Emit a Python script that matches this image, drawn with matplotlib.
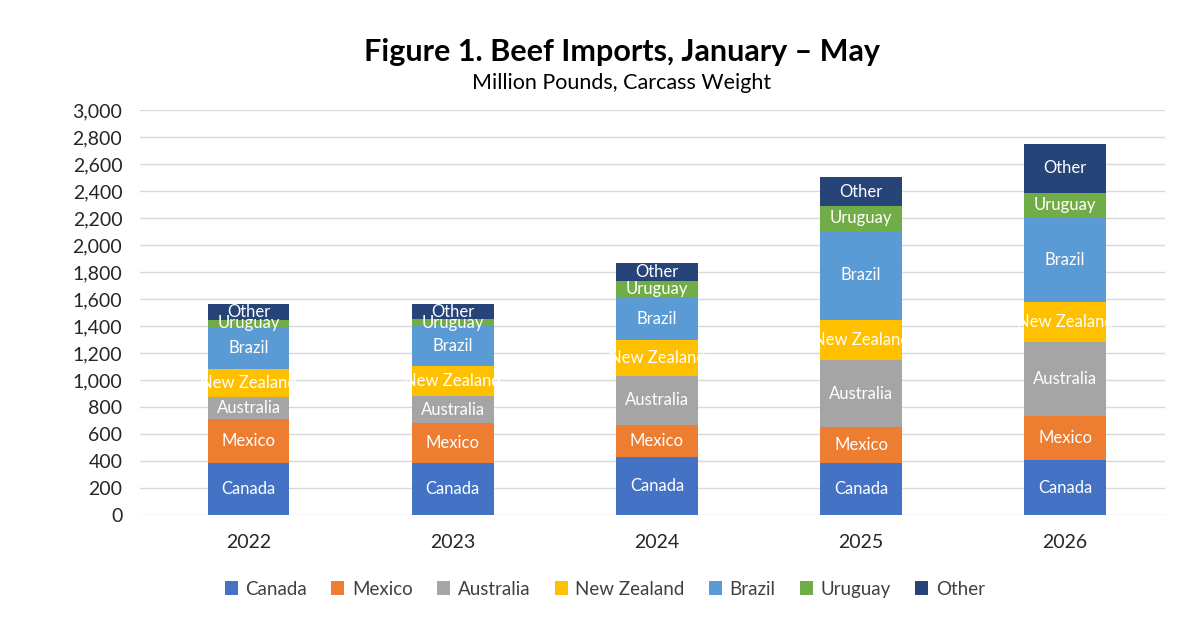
import matplotlib
matplotlib.use('Agg')

import matplotlib.pyplot as plt
import numpy as np

plt.rcParams['font.family'] = ['Lato', 'DejaVu Sans']

# Data (million pounds, carcass weight)
years = ['2022', '2023', '2024', '2025', '2026']
countries = ['Canada', 'Mexico', 'Australia', 'New Zealand', 'Brazil', 'Uruguay', 'Other']
canada = [383, 387, 432, 387, 407]
mexico = [326, 292, 235, 263, 326]
australia = [163, 202, 363, 498, 551]
new_zealand = [207, 223, 266, 296, 292]
brazil = [316, 296, 309, 660, 629]
uruguay = [49, 50, 131, 185, 183]
other = [119, 113, 128, 212, 360]

series = [canada, mexico, australia, new_zealand, brazil, uruguay, other]
colors = ['#4472C4', '#ED7D31', '#A5A5A5', '#FFC000', '#5B9BD5', '#70AD47', '#264478']

fig = plt.figure(figsize=(12, 6.3), dpi=100)
ax = fig.add_axes([0.117, 0.1825, 0.854, 0.643])

x = np.arange(len(years))
bottom = np.zeros(len(years))
for name, vals, col in zip(countries, series, colors):
    vals = np.array(vals, dtype=float)
    bars = ax.bar(x, vals, width=0.4, bottom=bottom, color=col, label=name, zorder=3)
    for rect, v, b in zip(bars, vals, bottom):
        t = ax.text(rect.get_x() + rect.get_width() / 2, b + v / 2, name,
                    ha='center', va='center', color='white', fontsize=12, zorder=4)
        t.set_clip_path(rect)
    bottom += vals

ax.set_xlim(-0.53, 4.49)
ax.set_ylim(0, 3000)
ax.set_yticks(np.arange(0, 3001, 200))
ax.set_yticklabels([f'{v:,}' for v in range(0, 3001, 200)])
ax.set_xticks(x)
ax.set_xticklabels(years)
ax.tick_params(axis='both', length=0, labelsize=14, colors='#262626')
ax.tick_params(axis='x', pad=14)
ax.tick_params(axis='y', pad=13)
ax.grid(axis='y', color='#D9D9D9', linewidth=1, zorder=0)
for s in ax.spines.values():
    s.set_visible(False)

fig.text(0.518, 0.918, 'Figure 1. Beef Imports, January \u2013 May', ha='center', va='center',
         fontsize=22, fontweight='bold', color='#000000')
fig.text(0.518, 0.868, 'Million Pounds, Carcass Weight', ha='center', va='center',
         fontsize=15.5, color='#000000')

fig.legend(loc='center', bbox_to_anchor=(0.504, 0.065), ncol=7, frameon=False,
           fontsize=13.5, handlelength=0.7, handleheight=0.7, handletextpad=0.4,
           columnspacing=1.3, labelcolor='#404040')

fig.savefig('out.png', dpi=100)
